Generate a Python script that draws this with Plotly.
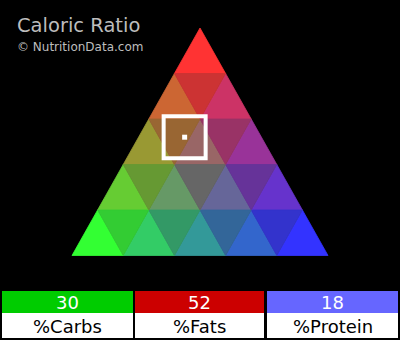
import plotly.graph_objects as go

# ---- data ----
nutrients = ["%Carbs", "%Fats", "%Protein"]
percent_values = [30, 52, 18]
cell_colors = ["#00CC00", "#CC0000", "#6666FF"]
title_text = "Caloric Ratio"
credit_text = "\u00a9 NutritionData.com"

# ---- geometry (pixel-like data coordinates) ----
TOP = (200.0, 28.0)     # fats corner
BL = (72.0, 255.5)      # carbs corner
BR = (328.0, 255.5)     # protein corner
N = 5
LEVELS = [51, 102, 153, 204, 255]


def bary(f, c, p):
    x = f * TOP[0] + c * BL[0] + p * BR[0]
    y = f * TOP[1] + c * BL[1] + p * BR[1]
    return x, y


def lat(f, c, p):
    return bary(f / N, c / N, p / N)


fig = go.Figure()

tris = []
for f in range(N):
    for c in range(N - f):
        p = N - 1 - f - c
        tris.append(([(f + 1, c, p), (f, c + 1, p), (f, c, p + 1)], (f, c, p)))
for f in range(N - 1):
    for c in range(N - 1 - f):
        p = N - 2 - f - c
        tris.append(([(f + 1, c + 1, p), (f + 1, c, p + 1), (f, c + 1, p + 1)], (f, c, p)))

for verts, (f, c, p) in tris:
    pts = [lat(*v) for v in verts]
    xs = [q[0] for q in pts] + [pts[0][0]]
    ys = [q[1] for q in pts] + [pts[0][1]]
    col = "rgb(%d,%d,%d)" % (LEVELS[f], LEVELS[c], LEVELS[p])
    fig.add_trace(go.Scatter(x=xs, y=ys, mode="lines", fill="toself",
                             fillcolor=col, line=dict(color=col, width=0.8),
                             hoverinfo="skip", showlegend=False))

carbs, fats, protein = percent_values
px, py = bary(fats / 100, carbs / 100, protein / 100)
fig.add_trace(go.Scatter(x=[px], y=[py], mode="markers",
                         marker=dict(symbol="square-open", size=42,
                                     line=dict(color="white", width=4), color="white"),
                         hoverinfo="skip", showlegend=False))
fig.add_trace(go.Scatter(x=[px], y=[py], mode="markers",
                         marker=dict(symbol="square", size=5, color="white",
                                     line=dict(width=0)),
                         hoverinfo="skip", showlegend=False))

# ---- table ----
cols = [(2, 133), (135, 264), (267, 398)]
shapes = []
annotations = []
for (x0, x1), name, val, col in zip(cols, nutrients, percent_values, cell_colors):
    shapes.append(dict(type="rect", xref="x", yref="y", x0=x0, x1=x1, y0=291, y1=313,
                       fillcolor=col, line=dict(width=0), layer="below"))
    shapes.append(dict(type="rect", xref="x", yref="y", x0=x0, x1=x1, y0=313, y1=338,
                       fillcolor="white", line=dict(width=0), layer="below"))
    annotations.append(dict(x=(x0 + x1) / 2, y=302, xref="x", yref="y", text=str(val),
                            showarrow=False, xanchor="center", yanchor="middle",
                            font=dict(family="DejaVu Sans", size=18, color="white")))
    annotations.append(dict(x=(x0 + x1) / 2, y=326, xref="x", yref="y", text=name,
                            showarrow=False, xanchor="center", yanchor="middle",
                            font=dict(family="DejaVu Sans", size=18, color="black")))

annotations.append(dict(x=15, y=25, xref="x", yref="y", text=title_text, showarrow=False,
                        xanchor="left", yanchor="middle",
                        font=dict(family="DejaVu Sans", size=19.5, color="#BDBDBD")))
annotations.append(dict(x=15, y=47, xref="x", yref="y", text=credit_text, showarrow=False,
                        xanchor="left", yanchor="middle",
                        font=dict(family="DejaVu Sans", size=12, color="#BDBDBD")))

fig.update_layout(
    width=400, height=340,
    margin=dict(l=0, r=0, t=0, b=0),
    paper_bgcolor="black", plot_bgcolor="black",
    xaxis=dict(range=[0, 400], visible=False, fixedrange=True),
    yaxis=dict(range=[340, 0], visible=False, fixedrange=True),
    shapes=shapes, annotations=annotations,
    showlegend=False,
)

fig.write_html("out.html")
